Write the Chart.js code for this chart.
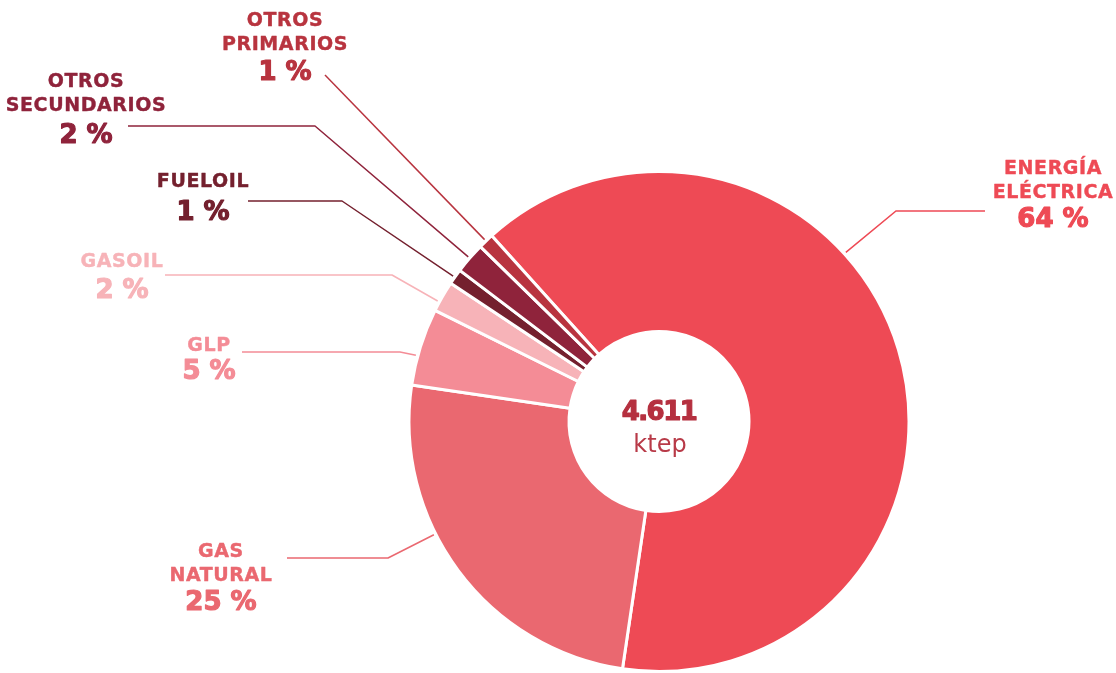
<!DOCTYPE html>
<html lang="es">
<head>
<meta charset="utf-8">
<title>Consumo de energía final</title>
<script src="https://cdn.jsdelivr.net/npm/chart.js@4/dist/chart.umd.min.js"></script>
<style>
  html, body { margin: 0; padding: 0; background: #fff; }
  #wrap { position: relative; width: 1116px; height: 673px; }
</style>
</head>
<body>
<div id="wrap"><canvas id="energyChart" width="1116" height="673"></canvas></div>
<script>
// Reparto por fuente (%)
const categories = ['ENERGÍA ELÉCTRICA', 'GAS NATURAL', 'GLP', 'GASOIL', 'FUELOIL', 'OTROS SECUNDARIOS', 'OTROS PRIMARIOS'];
const shares = [64, 25, 5, 2, 1, 2, 1];
const sliceColors = ['#EE4A55', '#EA6870', '#F48C96', '#F7B3B8', '#74202E', '#8F233B', '#B8343F'];
const totalLabel = '4.611';
const totalUnit = 'ktep';

// Callout layout: name lines, label centre, first baseline, pct baseline,
// leader line start / elbow, and where along the slice the line lands
const callouts = [
  { lines: ['ENERGÍA', 'ELÉCTRICA'], cx: 1053, base: 174, pctBase: 227, lineY: 211, from: 985, elbow: 896, frac: 0.39 },
  { lines: ['GAS', 'NATURAL'], cx: 221, base: 557, pctBase: 610, lineY: 558, from: 287, elbow: 388, frac: 0.61 },
  { lines: ['GLP'], cx: 209, base: 351, pctBase: 379, lineY: 352, from: 242, elbow: 400, frac: 0.38 },
  { lines: ['GASOIL'], cx: 122, base: 267, pctBase: 298, lineY: 275, from: 165, elbow: 392, frac: 0.3 },
  { lines: ['FUELOIL'], cx: 203, base: 187, pctBase: 220, lineY: 201, from: 248, elbow: 342, frac: 0.45 },
  { lines: ['OTROS', 'SECUNDARIOS'], cx: 86, base: 87, pctBase: 143, lineY: 126, from: 128, elbow: 315, frac: 0.5 },
  { lines: ['OTROS', 'PRIMARIOS'], cx: 285, base: 26, pctBase: 80, lineY: 75, from: 325, elbow: null, frac: 0.5 }
];

const FONT = '"DejaVu Sans", "Open Sans", sans-serif';

// heavy text: fill plus a thin stroke in the same colour
function heavyText(ctx, text, x, y, weight) {
  ctx.lineWidth = weight;
  ctx.lineJoin = 'round';
  ctx.strokeStyle = ctx.fillStyle;
  ctx.strokeText(text, x, y);
  ctx.fillText(text, x, y);
}

const calloutPlugin = {
  id: 'callouts',
  afterDatasetsDraw(chart) {
    const ctx = chart.ctx;
    const meta = chart.getDatasetMeta(0);
    ctx.save();
    meta.data.forEach((arc, i) => {
      const c = callouts[i];
      const col = sliceColors[i];
      const p = arc.getProps(['x', 'y', 'startAngle', 'endAngle', 'outerRadius'], true);
      const a = p.startAngle + (p.endAngle - p.startAngle) * c.frac;
      const r = p.outerRadius + 2;
      const ex = p.x + Math.cos(a) * r;
      const ey = p.y + Math.sin(a) * r;

      // leader line
      ctx.strokeStyle = col;
      ctx.lineWidth = 1.5;
      ctx.beginPath();
      ctx.moveTo(c.from, c.lineY);
      if (c.elbow !== null) ctx.lineTo(c.elbow, c.lineY);
      ctx.lineTo(ex, ey);
      ctx.stroke();

      // name + percentage
      ctx.fillStyle = col;
      ctx.textAlign = 'center';
      ctx.textBaseline = 'alphabetic';
      ctx.font = 'bold 19px ' + FONT;
      ctx.letterSpacing = '0.6px';
      c.lines.forEach((t, k) => {
        heavyText(ctx, t, c.cx, c.base + k * 24, 0.4);
      });
      ctx.font = 'bold 26px ' + FONT;
      ctx.letterSpacing = '0px';
      heavyText(ctx, shares[i] + ' %', c.cx, c.pctBase, 1.2);
    });

    // total in the hole
    const cx = meta.data[0].x;
    ctx.fillStyle = '#B5303F';
    ctx.textAlign = 'center';
    ctx.textBaseline = 'alphabetic';
    ctx.font = 'bold 26px ' + FONT;
    ctx.letterSpacing = '-1.5px';
    heavyText(ctx, totalLabel, cx, 420, 1.2);
    ctx.letterSpacing = '0px';
    ctx.fillStyle = '#B83A48';
    ctx.font = '24px ' + FONT;
    ctx.fillText(totalUnit, cx + 1, 452);
    ctx.restore();
  }
};

document.addEventListener('DOMContentLoaded', function() {
  const el = document.getElementById('energyChart');
  new Chart(el.getContext('2d'), {
    type: 'doughnut',
    data: {
      labels: categories,
      datasets: [{
        data: shares,
        backgroundColor: sliceColors,
        borderColor: '#ffffff',
        borderWidth: 3,
        hoverOffset: 0
      }]
    },
    options: {
      responsive: false,
      animation: false,
      rotation: -42,
      cutout: '36%',
      layout: { padding: { top: 170, bottom: 0, left: 407, right: 205 } },
      plugins: {
        legend: { display: false },
        tooltip: { enabled: false }
      }
    },
    plugins: [calloutPlugin]
  });
});
</script>
</body>
</html>
